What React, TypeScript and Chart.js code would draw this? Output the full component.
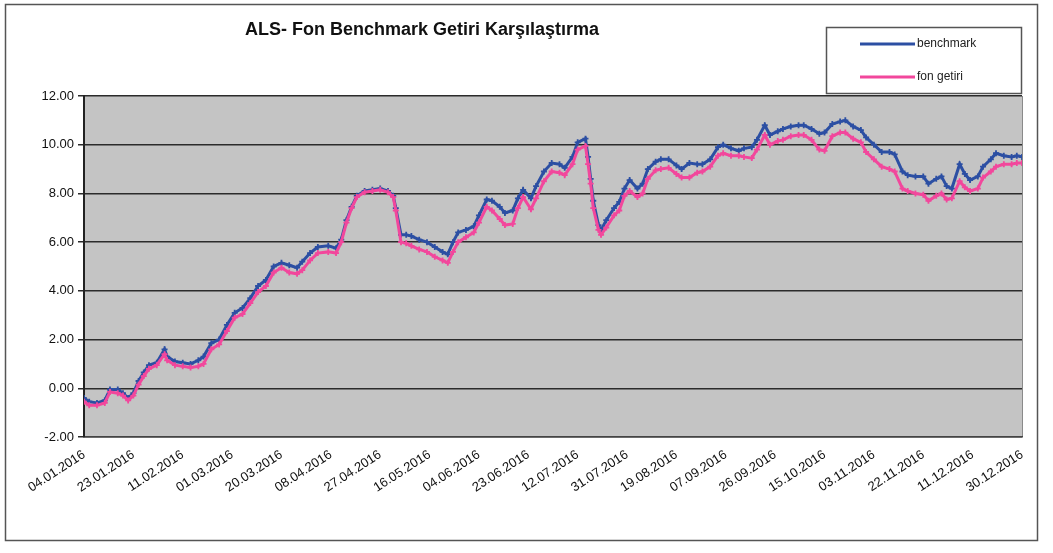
import React, { useEffect, useRef } from "react";
import { Chart, registerables } from "chart.js";

Chart.register(...registerables);

const chartTitle = "ALS- Fon Benchmark Getiri Karşılaştırma";

const tickLabels = [
  "04.01.2016", "23.01.2016", "11.02.2016", "01.03.2016", "20.03.2016",
  "08.04.2016", "27.04.2016", "16.05.2016", "04.06.2016", "23.06.2016",
  "12.07.2016", "31.07.2016", "19.08.2016", "07.09.2016", "26.09.2016",
  "15.10.2016", "03.11.2016", "22.11.2016", "11.12.2016", "30.12.2016",
];

// days since 04.01.2016
const dayOffsets = [
  0, 2, 5, 8, 10, 13, 15, 17, 19, 21,
  23, 25, 28, 31, 32, 35, 38, 41, 44, 46,
  49, 52, 55, 58, 61, 64, 67, 70, 73, 76,
  79, 82, 84, 87, 90, 94, 97, 99, 101, 103,
  105, 108, 111, 114, 117, 119, 120, 122, 124, 126,
  129, 132, 135, 138, 140, 142, 144, 147, 150, 152,
  155, 157, 160, 162, 165, 167, 169, 172, 174, 177,
  180, 183, 185, 188, 190, 193, 194, 195, 196, 198,
  199, 201, 204, 206, 208, 210, 213, 215, 217, 220,
  222, 225, 228, 230, 233, 236, 238, 241, 244, 246,
  249, 252, 254, 257, 259, 262, 264, 267, 269, 272,
  275, 277, 280, 283, 285, 288, 291, 293, 296, 299,
  301, 304, 307, 310, 312, 315, 317, 320, 323, 325,
  328, 330, 332, 334, 337, 339, 341, 344, 346, 349,
  351, 354, 357, 359, 361,
];

const benchmark = [
  -0.40, -0.55, -0.60, -0.50, -0.05, -0.05, -0.20, -0.40, -0.20, 0.30,
  0.65, 0.95, 1.05, 1.60, 1.30, 1.10, 1.05, 1.00, 1.15, 1.30,
  1.85, 2.00, 2.60, 3.10, 3.30, 3.70, 4.20, 4.45, 5.00, 5.15,
  5.05, 4.95, 5.20, 5.55, 5.80, 5.85, 5.75, 6.10, 6.90, 7.45,
  7.90, 8.10, 8.15, 8.20, 8.10, 7.90, 7.40, 6.30, 6.30, 6.25,
  6.10, 6.00, 5.80, 5.60, 5.50, 6.00, 6.40, 6.50, 6.65, 7.10,
  7.75, 7.70, 7.45, 7.20, 7.30, 7.80, 8.15, 7.80, 8.30, 8.90,
  9.25, 9.20, 9.05, 9.50, 10.10, 10.25, 9.50, 8.60, 7.70, 6.70,
  6.50, 6.90, 7.40, 7.65, 8.20, 8.55, 8.20, 8.40, 9.00, 9.30,
  9.40, 9.40, 9.15, 9.00, 9.25, 9.20, 9.20, 9.40, 9.90, 10.00,
  9.85, 9.75, 9.85, 9.90, 10.20, 10.80, 10.40, 10.55, 10.65, 10.75,
  10.80, 10.80, 10.65, 10.45, 10.50, 10.85, 10.95, 11.00, 10.75, 10.60,
  10.30, 10.00, 9.70, 9.70, 9.60, 8.90, 8.75, 8.70, 8.70, 8.40,
  8.60, 8.70, 8.30, 8.20, 9.20, 8.80, 8.55, 8.70, 9.10, 9.40,
  9.65, 9.55, 9.50, 9.55, 9.50,
];

const fonGetiri = [
  -0.55, -0.70, -0.70, -0.60, -0.15, -0.20, -0.30, -0.50, -0.30, 0.15,
  0.50, 0.80, 0.95, 1.40, 1.15, 0.95, 0.90, 0.85, 0.90, 1.00,
  1.60, 1.80, 2.35, 2.90, 3.05, 3.50, 3.95, 4.20, 4.75, 4.95,
  4.75, 4.70, 4.85, 5.25, 5.55, 5.60, 5.55, 6.00, 6.80, 7.40,
  7.85, 8.05, 8.10, 8.15, 8.05, 7.85, 7.30, 6.00, 5.95, 5.85,
  5.70, 5.60, 5.40, 5.25, 5.15, 5.60, 6.00, 6.20, 6.40, 6.80,
  7.45, 7.30, 6.95, 6.70, 6.75, 7.40, 7.85, 7.35, 7.80, 8.50,
  8.90, 8.85, 8.75, 9.20, 9.80, 9.95, 9.20, 8.40, 7.40, 6.50,
  6.30, 6.60, 7.10, 7.30, 7.90, 8.10, 7.85, 8.00, 8.60, 8.95,
  9.00, 9.05, 8.80, 8.65, 8.65, 8.85, 8.90, 9.10, 9.55, 9.65,
  9.55, 9.55, 9.50, 9.45, 9.80, 10.40, 10.00, 10.15, 10.20, 10.35,
  10.40, 10.40, 10.20, 9.80, 9.75, 10.35, 10.50, 10.50, 10.25, 10.10,
  9.70, 9.40, 9.10, 9.00, 8.90, 8.20, 8.10, 8.00, 7.95, 7.70,
  7.90, 8.00, 7.75, 7.80, 8.50, 8.25, 8.10, 8.20, 8.65, 8.90,
  9.10, 9.20, 9.20, 9.25, 9.25,
];

const seriesNames = ["benchmark", "fon getiri"];
const BLUE = "#2c4fa3";
const PINK = "#f2479c";
const FONT = "'Liberation Sans', Arial, sans-serif";

const framePlugin = {
  id: "frame",
  beforeDraw(chart: any) {
    const { ctx, chartArea } = chart;
    ctx.save();
    ctx.fillStyle = "#ffffff";
    ctx.fillRect(0, 0, chart.width, chart.height);
    ctx.strokeStyle = "#555555";
    ctx.lineWidth = 1.5;
    ctx.strokeRect(5.5, 4.5, 1032, 536);
    ctx.fillStyle = "#c4c4c4";
    ctx.fillRect(chartArea.left, chartArea.top, chartArea.right - chartArea.left, chartArea.bottom - chartArea.top);
    ctx.strokeStyle = "#8a8a8a";
    ctx.lineWidth = 1;
    ctx.beginPath();
    ctx.moveTo(chartArea.right + 0.5, chartArea.top);
    ctx.lineTo(chartArea.right + 0.5, chartArea.bottom);
    ctx.stroke();
    ctx.restore();
  },
  afterDraw(chart: any) {
    const { ctx } = chart;
    ctx.save();
    // title
    ctx.fillStyle = "#111111";
    ctx.font = `bold 18px ${FONT}`;
    ctx.textAlign = "center";
    ctx.textBaseline = "middle";
    ctx.fillText(chartTitle, 422, 30);
    // legend box
    ctx.fillStyle = "#ffffff";
    ctx.fillRect(826, 27, 195, 66);
    ctx.strokeStyle = "#555555";
    ctx.lineWidth = 1.5;
    ctx.strokeRect(826.5, 27.5, 195, 66);
    const rows = [44, 77];
    chart.data.datasets.forEach((ds: any, i: number) => {
      const y = rows[i];
      ctx.strokeStyle = ds.borderColor;
      ctx.lineWidth = 3;
      ctx.beginPath();
      ctx.moveTo(860, y);
      ctx.lineTo(915, y);
      ctx.stroke();
      ctx.fillStyle = "#222222";
      ctx.font = `12px 'Liberation Sans Narrow', ${FONT}`;
      ctx.textAlign = "left";
      ctx.textBaseline = "middle";
      ctx.fillText(ds.label, 917, y);
    });
    ctx.restore();
  },
};

export default function App() {
  const canvasRef = useRef<HTMLCanvasElement | null>(null);

  useEffect(() => {
    if (!canvasRef.current) return;
    const chart = new Chart(canvasRef.current, {
      type: "line",
      data: {
        datasets: [
          {
            label: seriesNames[0],
            data: dayOffsets.map((d, i) => ({ x: d, y: benchmark[i] })),
            borderColor: BLUE,
            backgroundColor: BLUE,
            borderWidth: 3,
            pointStyle: "cross",
            pointRadius: 3,
            pointBorderWidth: 1.8,
            pointBorderColor: BLUE,
            tension: 0,
            order: 1,
          },
          {
            label: seriesNames[1],
            data: dayOffsets.map((d, i) => ({ x: d, y: fonGetiri[i] })),
            borderColor: PINK,
            backgroundColor: PINK,
            borderWidth: 3,
            pointStyle: "cross",
            pointRadius: 3,
            pointBorderWidth: 1.8,
            pointBorderColor: PINK,
            tension: 0,
            order: 0,
          },
        ],
      },
      options: {
        responsive: false,
        animation: false,
        layout: { padding: { left: 0, top: 96, right: 31, bottom: 0 } },
        plugins: {
          legend: { display: false },
          title: { display: false },
          tooltip: { enabled: false },
        },
        scales: {
          x: {
            type: "linear",
            min: 0,
            max: 361,
            afterFit: (s: any) => { s.height = 116; },
            grid: { display: false },
            border: { display: true, color: "#444444", width: 1.5 },
            ticks: {
              stepSize: 19,
              autoSkip: false,
              maxRotation: 33,
              minRotation: 33,
              padding: 2,
              color: "#111111",
              font: { family: FONT, size: 13 },
              callback: (v: any) => tickLabels[Math.round(Number(v) / 19)] ?? "",
            },
          },
          y: {
            min: -2,
            max: 12,
            afterFit: (s: any) => { s.width = 84; },
            grid: { color: "#2b2b2b", lineWidth: 1.5, tickLength: 6, drawTicks: true },
            border: { display: true, color: "#222222", width: 2 },
            ticks: {
              stepSize: 2,
              padding: 4,
              color: "#111111",
              font: { family: FONT, size: 13 },
              callback: (v: any) => Number(v).toFixed(2),
            },
          },
        },
      },
      plugins: [framePlugin],
    } as any);
    return () => chart.destroy();
  }, []);

  return (
    <div style={{ position: "absolute", left: 0, top: 0, width: 1053, height: 553 }}>
      <canvas ref={canvasRef} width={1053} height={553} />
    </div>
  );
}
